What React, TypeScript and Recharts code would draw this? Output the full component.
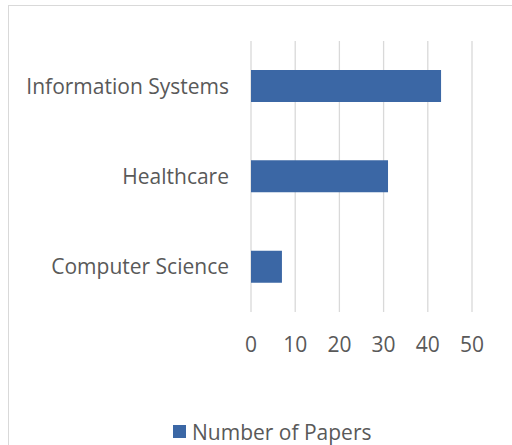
import React from "react";
import { BarChart, Bar, XAxis, YAxis, CartesianGrid, Legend } from "recharts";

const categories = ["Information Systems", "Healthcare", "Computer Science"];
const paperCounts = [43, 31, 7];
const xTicks = [0, 10, 20, 30, 40, 50];
const seriesName = "Number of Papers";

const data = categories.map((c, i) => ({ name: c, value: paperCounts[i] }));

const FONT = "'Open Sans', sans-serif";
const TEXT = "#595959";
const BAR = "#3b67a5";

const LegendContent = () => (
  <div style={{ display: "flex", alignItems: "center", height: 27, fontFamily: FONT, fontSize: 21, color: TEXT, whiteSpace: "nowrap" }}>
    <span style={{ display: "inline-block", width: 13, height: 13, background: BAR, marginRight: 6 }} />
    <span>{seriesName}</span>
  </div>
);

export default function App() {
  return (
    <div style={{ position: "absolute", left: 0, top: 0, width: 512, height: 445, overflow: "hidden", background: "#fff" }}>
      <div style={{ position: "absolute", left: 8, top: 5, width: 600, height: 600, border: "1px solid #d9d9d9", boxSizing: "border-box" }} />
      <div style={{ position: "absolute", left: 0, top: 0 }}>
        <BarChart
          width={512}
          height={445}
          data={data}
          layout="vertical"
          margin={{ top: 41, right: 40, left: 0, bottom: 0 }}
          barSize={32}
        >
          <CartesianGrid horizontal={false} vertical={true} stroke="#d9d9d9" strokeWidth={1.3} />
          <XAxis
            type="number"
            domain={[0, 50]}
            ticks={xTicks}
            axisLine={false}
            tickLine={false}
            tickSize={0}
            tickMargin={25}
            height={106}
            tick={{ fill: TEXT, fontSize: 21, fontFamily: FONT }}
            interval={0}
          />
          <YAxis
            type="category"
            dataKey="name"
            width={251}
            axisLine={false}
            tickLine={false}
            tickSize={0}
            tickMargin={22}
            tick={{ fill: TEXT, fontSize: 21, fontFamily: FONT }}
            interval={0}
          />
          <Legend
            verticalAlign="bottom"
            content={LegendContent}
            wrapperStyle={{ left: 173, width: "auto", bottom: 0 }}
          />
          <Bar dataKey="value" name={seriesName} fill={BAR} isAnimationActive={false} />
        </BarChart>
      </div>
    </div>
  );
}
